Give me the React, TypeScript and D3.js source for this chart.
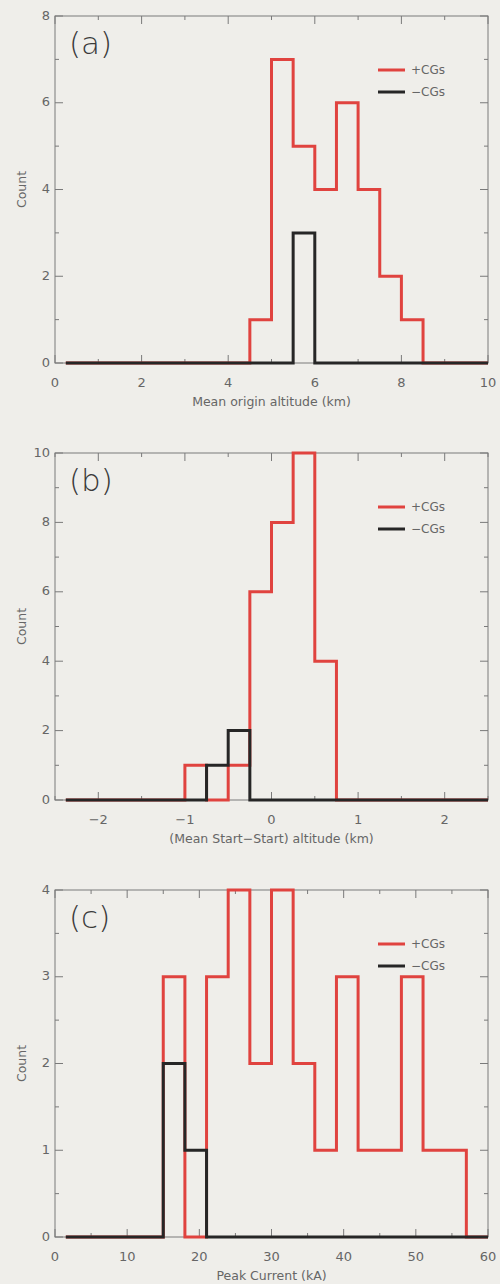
import * as d3 from 'd3'

// Panel (a): mean origin altitude, bins of 0.5 km
const aDomain = [0, 10]
const aBinWidth = 0.5
const aTicks = [0, 2, 4, 6, 8, 10]
const aYTicks = [0, 2, 4, 6, 8]
const aRedStart = 4.5
const aRedCounts = [1, 7, 5, 4, 6, 4, 2, 1]
const aBlackStart = 5.5
const aBlackCounts = [3]

// Panel (b): mean start-start altitude, bins of 0.25 km
const bDomain = [-2.5, 2.5]
const bBinWidth = 0.25
const bTicks = [-2, -1, 0, 1, 2]
const bYTicks = [0, 2, 4, 6, 8, 10]
const bRedStart = -1
const bRedCounts = [1, 0, 1, 6, 8, 10, 4]
const bBlackStart = -0.75
const bBlackCounts = [1, 2]

// Panel (c): peak current, bins of 3 kA
const cDomain = [0, 60]
const cBinWidth = 3
const cTicks = [0, 10, 20, 30, 40, 50, 60]
const cYTicks = [0, 1, 2, 3, 4]
const cRedStart = 15
const cRedCounts = [3, 0, 3, 4, 2, 4, 2, 1, 3, 1, 1, 3, 1, 1]
const cBlackStart = 15
const cBlackCounts = [2, 1]

const RED = '#e0433f'
const BLACK = '#262626'
const AXIS = '#7a7a7a'
const TEXT = '#666'
const FONT = '"DejaVu Sans", sans-serif'

const left = 55
const right = 488

interface PanelProps {
  top: number
  bottom: number
  label: string
  xTitle: string
  domain: number[]
  binWidth: number
  xTicks: number[]
  xMinor: number
  yTicks: number[]
  yMinor: number
  red: { start: number; counts: number[] }
  black: { start: number; counts: number[] }
}

// step outline over every bin of the domain, IDL style: starts at the first bin centre
function stepPoints(domain: number[], w: number, start: number, counts: number[]) {
  const n = Math.round((domain[1] - domain[0]) / w)
  const pts: [number, number][] = []
  for (let i = 0; i < n; i++) {
    const x0 = domain[0] + i * w
    const k = Math.round((x0 - start) / w)
    const c = k >= 0 && k < counts.length ? counts[k] : 0
    pts.push([i === 0 ? x0 + w / 2 : x0, c])
  }
  pts.push([domain[1], pts[pts.length - 1][1]])
  return pts
}

function Panel(p: PanelProps) {
  const x = d3.scaleLinear().domain(p.domain).range([left, right])
  const yMax = p.yTicks[p.yTicks.length - 1]
  const y = d3.scaleLinear().domain([0, yMax]).range([p.bottom, p.top])

  const line = d3.line<[number, number]>()
    .x(d => x(d[0]))
    .y(d => y(d[1]))
    .curve(d3.curveStepAfter)

  const redPath = line(stepPoints(p.domain, p.binWidth, p.red.start, p.red.counts))!
  const blackPath = line(stepPoints(p.domain, p.binWidth, p.black.start, p.black.counts))!

  const xMinorTicks = d3.range(p.domain[0], p.domain[1] + 1e-9, p.xMinor).filter(v => !p.xTicks.some(t => Math.abs(t - v) < 1e-9))
  const yMinorTicks = d3.range(0, yMax + 1e-9, p.yMinor).filter(v => !p.yTicks.some(t => Math.abs(t - v) < 1e-9))

  const major = 8
  const minor = 4
  const fmt = (v: number) => (v < 0 ? '\u2212' + Math.abs(v) : String(v))

  return (
    <g>
      {/* frame */}
      <rect x={left} y={p.top} width={right - left} height={p.bottom - p.top} fill="none" stroke={AXIS} strokeWidth={1} />

      {/* x ticks, bottom and top */}
      {p.xTicks.map(t => (
        <g key={'xt' + t}>
          <line x1={x(t)} x2={x(t)} y1={p.bottom} y2={p.bottom - major} stroke={AXIS} />
          <line x1={x(t)} x2={x(t)} y1={p.top} y2={p.top + major} stroke={AXIS} />
          <text x={x(t)} y={p.bottom + 20} textAnchor="middle" dominantBaseline="middle" fontSize={13} fill={TEXT} fontFamily={FONT}>{fmt(t)}</text>
        </g>
      ))}
      {xMinorTicks.map(t => (
        <g key={'xm' + t}>
          <line x1={x(t)} x2={x(t)} y1={p.bottom} y2={p.bottom - minor} stroke={AXIS} />
          <line x1={x(t)} x2={x(t)} y1={p.top} y2={p.top + minor} stroke={AXIS} />
        </g>
      ))}

      {/* y ticks, left and right */}
      {p.yTicks.map(t => (
        <g key={'yt' + t}>
          <line x1={left} x2={left + major} y1={y(t)} y2={y(t)} stroke={AXIS} />
          <line x1={right} x2={right - major} y1={y(t)} y2={y(t)} stroke={AXIS} />
          <text x={50} y={y(t)} textAnchor="end" dominantBaseline="middle" fontSize={13} fill={TEXT} fontFamily={FONT}>{fmt(t)}</text>
        </g>
      ))}
      {yMinorTicks.map(t => (
        <g key={'ym' + t}>
          <line x1={left} x2={left + minor} y1={y(t)} y2={y(t)} stroke={AXIS} />
          <line x1={right} x2={right - minor} y1={y(t)} y2={y(t)} stroke={AXIS} />
        </g>
      ))}

      {/* histograms */}
      <path d={redPath} fill="none" stroke={RED} strokeWidth={3} />
      <path d={blackPath} fill="none" stroke={BLACK} strokeWidth={3} />

      {/* titles */}
      <text x={(left + right) / 2} y={p.bottom + 39} textAnchor="middle" dominantBaseline="middle" fontSize={12.5} fill={TEXT} fontFamily={FONT}>{p.xTitle}</text>
      <text transform={`translate(22,${(p.top + p.bottom) / 2}) rotate(-90)`} textAnchor="middle" dominantBaseline="middle" fontSize={12.5} fill={TEXT} fontFamily={FONT}>Count</text>
      <text x={69} y={p.top + 29} dominantBaseline="middle" fontSize={31} fill="#3a3a3a" fontFamily={FONT} fontWeight={300}>{p.label}</text>

      {/* legend */}
      <line x1={378} x2={405} y1={p.top + 54} y2={p.top + 54} stroke={RED} strokeWidth={3} />
      <text x={411} y={p.top + 54} dominantBaseline="middle" fontSize={12} fill={TEXT} fontFamily={FONT}>+CGs</text>
      <line x1={378} x2={405} y1={p.top + 76} y2={p.top + 76} stroke={BLACK} strokeWidth={3} />
      <text x={411} y={p.top + 76} dominantBaseline="middle" fontSize={12} fill={TEXT} fontFamily={FONT}>{'\u2212CGs'}</text>
    </g>
  )
}

export default function App() {
  return (
    <svg width={500} height={1284} style={{ position: 'absolute', left: 0, top: 0, background: '#efeeea' }}>
      <rect width={500} height={1284} fill="#efeeea" />
      <Panel top={16} bottom={363} label="(a)" xTitle="Mean origin altitude (km)"
        domain={aDomain} binWidth={aBinWidth} xTicks={aTicks} xMinor={1} yTicks={aYTicks} yMinor={1}
        red={{ start: aRedStart, counts: aRedCounts }} black={{ start: aBlackStart, counts: aBlackCounts }} />
      <Panel top={453} bottom={800} label="(b)" xTitle={'(Mean Start\u2212Start) altitude (km)'}
        domain={bDomain} binWidth={bBinWidth} xTicks={bTicks} xMinor={0.5} yTicks={bYTicks} yMinor={1}
        red={{ start: bRedStart, counts: bRedCounts }} black={{ start: bBlackStart, counts: bBlackCounts }} />
      <Panel top={890} bottom={1237} label="(c)" xTitle="Peak Current (kA)"
        domain={cDomain} binWidth={cBinWidth} xTicks={cTicks} xMinor={5} yTicks={cYTicks} yMinor={0.5}
        red={{ start: cRedStart, counts: cRedCounts }} black={{ start: cBlackStart, counts: cBlackCounts }} />
    </svg>
  )
}
